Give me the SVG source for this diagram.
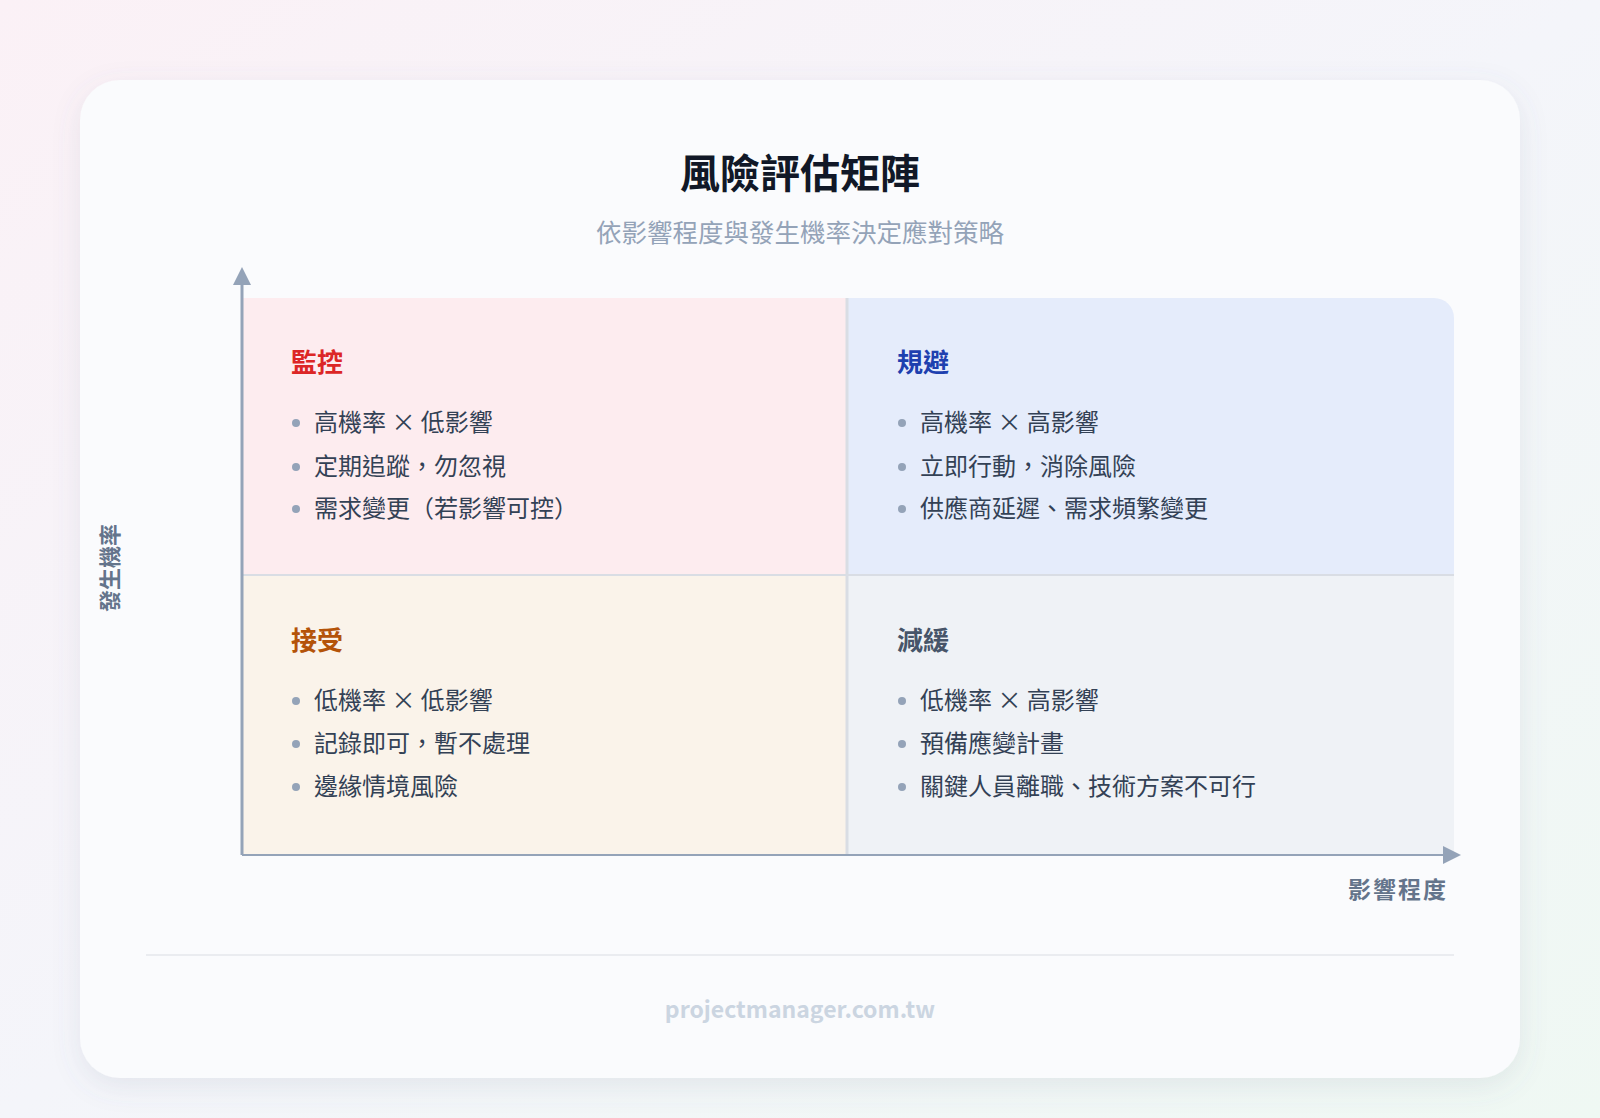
<svg xmlns="http://www.w3.org/2000/svg" width="1600" height="1118" viewBox="0 0 1600 1118">
<defs>
<linearGradient id="bg" x1="0" y1="0" x2="1" y2="1"><stop offset="0" stop-color="#fbf1f6"/><stop offset="0.5" stop-color="#f4f5fa"/><stop offset="1" stop-color="#eff8f3"/></linearGradient>
<filter id="sh" x="-10%" y="-10%" width="120%" height="120%"><feDropShadow dx="0" dy="8" stdDeviation="14" flood-color="#64748b" flood-opacity="0.12"/></filter>
<marker id="ah" viewBox="0 0 10 10" refX="5" refY="5" markerWidth="18" markerHeight="18" markerUnits="userSpaceOnUse" orient="auto"><path d="M0,0 L10,5 L0,10 z" fill="#94a3b8"/></marker>
<style>
text{font-family:"Noto Sans CJK TC","Noto Sans",sans-serif}
.qt{font-size:26px;font-weight:700}
.it{font-size:24px;fill:#334155}
.bu{fill:#94a3b8}
</style>
</defs>
<rect width="1600" height="1118" fill="url(#bg)"/>
<rect x="80" y="80" width="1440" height="998" rx="40" fill="#fafbfd" filter="url(#sh)"/>
<text x="800" y="188" text-anchor="middle" font-size="40" font-weight="700" fill="#111827">風險評估矩陣</text>
<text x="800" y="242" text-anchor="middle" font-size="25.5" fill="#94a3b8">依影響程度與發生機率決定應對策略</text>
<g id="q-monitor"><rect x="243" y="298" width="604" height="277" fill="#fdecef"/>
<text x="291" y="372" class="qt" fill="#dc2626">監控</text>
<circle cx="296" cy="423" r="4" class="bu"/><text x="314" y="431" class="it">高機率 × 低影響</text>
<circle cx="296" cy="467" r="4" class="bu"/><text x="314" y="475" class="it">定期追蹤，勿忽視</text>
<circle cx="296" cy="509" r="4" class="bu"/><text x="314" y="517" class="it">需求變更（若影響可控）</text></g>
<g id="q-avoid"><path d="M847,298 H1434 a20,20 0 0 1 20,20 V575 H847 z" fill="#e5ecfb"/>
<text x="897" y="372" class="qt" fill="#1e40af">規避</text>
<circle cx="902" cy="423" r="4" class="bu"/><text x="920" y="431" class="it">高機率 × 高影響</text>
<circle cx="902" cy="467" r="4" class="bu"/><text x="920" y="475" class="it">立即行動，消除風險</text>
<circle cx="902" cy="509" r="4" class="bu"/><text x="920" y="517" class="it">供應商延遲、需求頻繁變更</text></g>
<g id="q-accept"><rect x="243" y="575" width="604" height="280" fill="#faf3ea"/>
<text x="291" y="650" class="qt" fill="#b45309">接受</text>
<circle cx="296" cy="701" r="4" class="bu"/><text x="314" y="709" class="it">低機率 × 低影響</text>
<circle cx="296" cy="744" r="4" class="bu"/><text x="314" y="752" class="it">記錄即可，暫不處理</text>
<circle cx="296" cy="787" r="4" class="bu"/><text x="314" y="795" class="it">邊緣情境風險</text></g>
<g id="q-mitigate"><rect x="847" y="575" width="607" height="280" fill="#eff2f6"/>
<text x="897" y="650" class="qt" fill="#475569">減緩</text>
<circle cx="902" cy="701" r="4" class="bu"/><text x="920" y="709" class="it">低機率 × 高影響</text>
<circle cx="902" cy="744" r="4" class="bu"/><text x="920" y="752" class="it">預備應變計畫</text>
<circle cx="902" cy="787" r="4" class="bu"/><text x="920" y="795" class="it">關鍵人員離職、技術方案不可行</text></g>
<g id="connectors" stroke-width="2" fill="none">
<line x1="847" y1="298" x2="847" y2="855" stroke="#d9dde4" stroke-width="3"/>
<line x1="243" y1="575" x2="1454" y2="575" stroke="#d9dde4" stroke-width="2"/>
<line x1="242" y1="855" x2="242" y2="276" stroke="#94a3b8" stroke-width="3" marker-end="url(#ah)"/>
<line x1="242" y1="855" x2="1452" y2="855" stroke="#94a3b8" stroke-width="2" marker-end="url(#ah)"/>
</g>
<text x="0" y="0" transform="translate(118,568) rotate(-90)" text-anchor="middle" font-size="22" font-weight="700" fill="#64748b">發生機率</text>
<text x="1448" y="898" text-anchor="end" font-size="23" font-weight="700" fill="#64748b" letter-spacing="2">影響程度</text>
<line x1="146" y1="955" x2="1454" y2="955" stroke="#e5e7eb" stroke-width="1.5"/>
<text x="800" y="1018" text-anchor="middle" font-size="23" font-weight="600" fill="#cbd5e1" font-family="Inter,sans-serif">projectmanager.com.tw</text>
</svg>
